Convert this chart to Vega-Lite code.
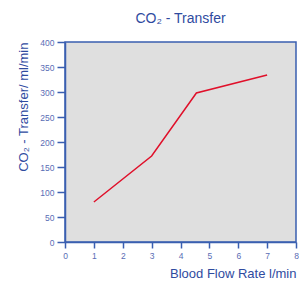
{
  "$schema": "https://vega.github.io/schema/vega-lite/v6.json",
  "width": 231,
  "height": 200,
  "autosize": {"type": "none"},
  "padding": {"left": 65, "top": 42, "right": 3, "bottom": 42},
  "background": "#ffffff",
  "title": {"text": "CO₂ - Transfer", "anchor": "middle", "offset": 12, "fontSize": 14, "font": "Liberation Sans", "fontWeight": "normal", "color": "#2f4b9f"},
  "config": {
    "view": {"fill": "#dfdfdf", "stroke": "#3a5fb0", "strokeWidth": 1.5},
    "axis": {"labelFont": "Liberation Sans", "titleFont": "Liberation Sans", "labelColor": "#5a6db5", "titleColor": "#2f4b9f", "domainColor": "#3a5fb0", "tickColor": "#3a5fb0", "domainWidth": 1.5, "tickWidth": 1.5, "grid": false, "labelFontSize": 8.5, "titleFontSize": 13, "titleFontWeight": "normal"}
  },
  "data": {"values": [
    {"flow": 1, "co2": 80},
    {"flow": 3, "co2": 172},
    {"flow": 4.55, "co2": 298},
    {"flow": 7, "co2": 334}
  ]},
  "mark": {"type": "line", "color": "#e0102a", "strokeWidth": 1.5},
  "encoding": {
    "x": {"field": "flow", "type": "quantitative", "scale": {"domain": [0, 8], "nice": false}, "axis": {"title": "Blood Flow Rate l/min", "titleAnchor": "end", "titlePadding": 8, "values": [0,1,2,3,4,5,6,7,8], "tickSize": 6, "labelPadding": 3, "labelFlush": false}},
    "y": {"field": "co2", "type": "quantitative", "scale": {"domain": [0, 400], "nice": false}, "axis": {"title": "CO₂ - Transfer/ ml/min", "titleAnchor": "end", "titlePadding": 9, "values": [0,50,100,150,200,250,300,350,400], "tickSize": 8, "labelPadding": 3, "labelFlush": false}}
  }
}
